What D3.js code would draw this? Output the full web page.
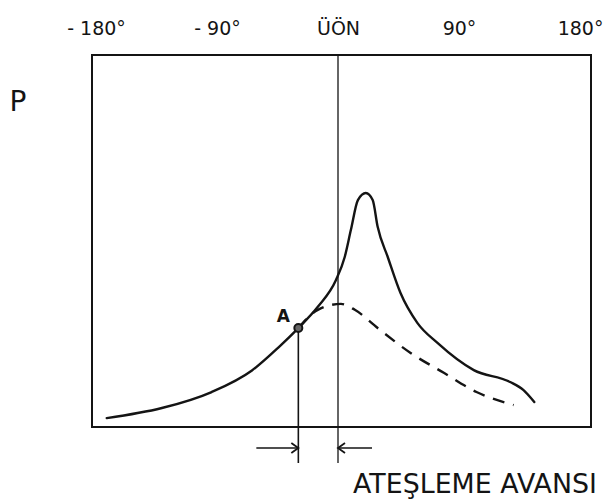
<!DOCTYPE html>
<html>
<head>
<meta charset="utf-8">
<script src="https://cdn.jsdelivr.net/npm/d3@7"></script>
<style>
  body { margin: 0; background: #fff; }
  svg { display: block; }
</style>
</head>
<body>
<div id="chart"></div>
<script>
// tick values along the top and their hand-written labels
var tickValues = [-180, -90, 0, 90, 180];
var tickLabels = ["- 180°", "- 90°", "ÜÖN", "90°", "180°"];

// crank angle (deg) and pressure (relative) of the fired cycle
var firedAngle = [-172, -131, -94, -64, -44, -29.5, -15, -1.5, 5, 9.6, 14.8, 20.7, 25.8, 29.5, 37, 46.5, 59, 74, 101, 128, 138, 146];
var firedP     = [2.4, 5.1, 9.4, 15.2, 21.5, 26.6, 32.3, 39.5, 45.7, 53, 61, 62.9, 61, 53.8, 45.7, 36, 28, 22.6, 15.3, 12.1, 9.9, 6.7];

// motored (no combustion) curve, dashed, starting from point A
var motoredAngle = [-29.5, -15, 2.2, 12.5, 29.5, 54, 79, 103, 130.6];
var motoredP     = [26.6, 31.5, 33.1, 31.5, 26.6, 19.9, 14.5, 9.4, 5.9];

// ignition point A
var ignitionAngle = -29.5;
var ignitionP = 26.6;

var width = 606, height = 503;
var box = { left: 92, top: 55, right: 591, bottom: 427 };

var svg = d3.select("#chart")
    .append("svg")
    .attr("width", width)
    .attr("height", height)
    .style("background-color", "#fff");

var ink = "#141414";

// scales
var x = d3.scaleLinear().domain([-180, 180]).range([96, 580]);
var y = d3.scaleLinear().domain([0, 100]).range([box.bottom, box.top]);

// frame
svg.append("rect")
    .attr("x", box.left)
    .attr("y", box.top)
    .attr("width", box.right - box.left)
    .attr("height", box.bottom - box.top)
    .attr("fill", "none")
    .attr("stroke", ink)
    .attr("stroke-width", 2);

// top labels
var axisTop = d3.axisTop(x)
    .tickValues(tickValues)
    .tickSize(0)
    .tickFormat(function (d, i) { return tickLabels[i]; });

svg.append("g")
    .attr("transform", "translate(0, 38)")
    .call(axisTop)
    .call(function (g) { g.select(".domain").remove(); })
    .selectAll("text")
    .attr("fill", ink)
    .style("font-family", "DejaVu Sans")
    .style("font-size", "19px")
    .attr("dy", 0);

// P label
svg.append("text")
    .attr("x", 18)
    .attr("y", 111)
    .attr("text-anchor", "middle")
    .style("font-family", "DejaVu Sans")
    .style("font-size", "28px")
    .attr("fill", ink)
    .text("P");

// TDC line
svg.append("line")
    .attr("x1", x(0)).attr("x2", x(0))
    .attr("y1", box.top).attr("y2", 463)
    .attr("stroke", ink)
    .attr("stroke-width", 1.3);

// vertical through A
svg.append("line")
    .attr("x1", x(ignitionAngle)).attr("x2", x(ignitionAngle))
    .attr("y1", y(ignitionP)).attr("y2", 463)
    .attr("stroke", ink)
    .attr("stroke-width", 1.6);

var line = d3.line()
    .x(function (d) { return x(d[0]); })
    .y(function (d) { return y(d[1]); })
    .curve(d3.curveMonotoneX);

svg.append("path")
    .attr("d", line(d3.zip(firedAngle, firedP)))
    .attr("fill", "none")
    .attr("stroke", ink)
    .attr("stroke-width", 2.4)
    .attr("stroke-linecap", "round");

svg.append("path")
    .attr("d", line(d3.zip(motoredAngle, motoredP)))
    .attr("fill", "none")
    .attr("stroke", ink)
    .attr("stroke-width", 2.4)
    .attr("stroke-dasharray", "12 9");

// point A
svg.append("circle")
    .attr("cx", x(ignitionAngle))
    .attr("cy", y(ignitionP))
    .attr("r", 4)
    .attr("fill", "#666")
    .attr("stroke", ink)
    .attr("stroke-width", 2);

svg.append("text")
    .attr("x", x(ignitionAngle) - 15)
    .attr("y", y(ignitionP) - 6)
    .attr("text-anchor", "middle")
    .style("font-family", "DejaVu Sans")
    .style("font-weight", "bold")
    .style("font-size", "17px")
    .attr("fill", ink)
    .text("A");

// ignition advance dimension arrows
var arrowY = 448;
var xa = x(ignitionAngle), xt = x(0);
svg.append("line")
    .attr("x1", xa - 42).attr("x2", xa)
    .attr("y1", arrowY).attr("y2", arrowY)
    .attr("stroke", ink).attr("stroke-width", 1.6);
svg.append("line")
    .attr("x1", xt).attr("x2", xt + 34)
    .attr("y1", arrowY).attr("y2", arrowY)
    .attr("stroke", ink).attr("stroke-width", 1.6);
svg.append("path")
    .attr("d", "M" + (xa - 7) + "," + (arrowY - 5) + "L" + xa + "," + arrowY + "L" + (xa - 7) + "," + (arrowY + 5))
    .attr("fill", "none").attr("stroke", ink).attr("stroke-width", 1.8);
svg.append("path")
    .attr("d", "M" + (xt + 7) + "," + (arrowY - 5) + "L" + xt + "," + arrowY + "L" + (xt + 7) + "," + (arrowY + 5))
    .attr("fill", "none").attr("stroke", ink).attr("stroke-width", 1.8);

svg.append("text")
    .attr("x", 353)
    .attr("y", 493)
    .attr("textLength", 244)
    .attr("lengthAdjust", "spacingAndGlyphs")
    .style("font-family", "DejaVu Sans")
    .style("font-size", "26px")
    .attr("fill", ink)
    .text("ATEŞLEME AVANSI");
</script>
</body>
</html>
